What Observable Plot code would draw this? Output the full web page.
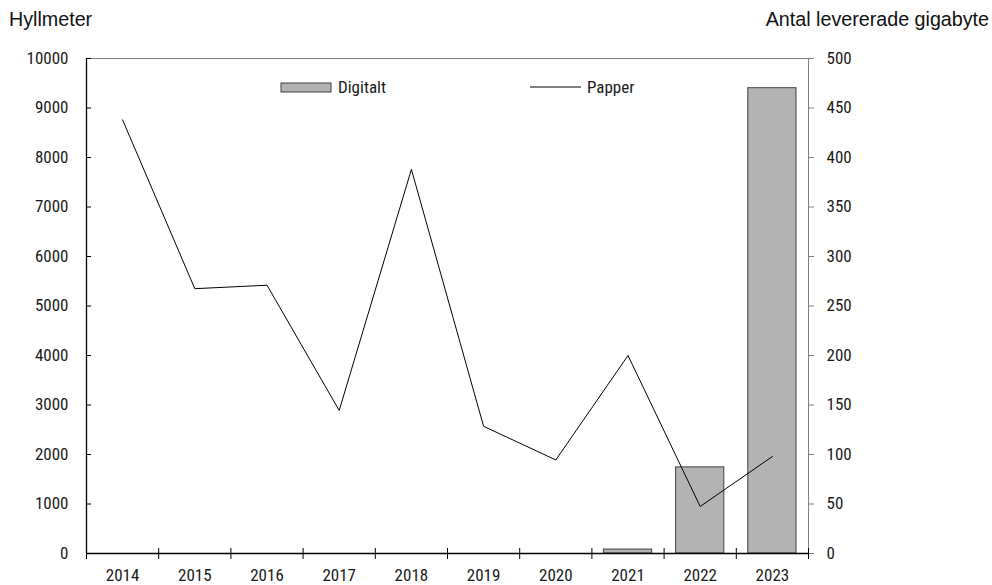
<!DOCTYPE html>
<html>
<head>
<meta charset="utf-8">
<script src="https://cdn.jsdelivr.net/npm/d3@7"></script>
<script src="https://cdn.jsdelivr.net/npm/@observablehq/plot@0.6"></script>
<style>
  html, body { margin: 0; padding: 0; background: #fff; }
  #wrap { position: relative; width: 992px; height: 585px; overflow: hidden; }
  .title { position: absolute; top: 6px; font-family: "Liberation Sans", Arial, sans-serif; font-size: 19.7px; color: #111; white-space: nowrap; line-height: 26px; }
  #overlay { position: absolute; left: 0; top: 0; pointer-events: none; }
</style>
</head>
<body>
<div id="wrap">
  <div id="chart"></div>
  <div class="title" style="left:9px;">Hyllmeter</div>
  <div class="title" style="right:3px;">Antal levererade gigabyte</div>
</div>
<script>
const years = [2014, 2015, 2016, 2017, 2018, 2019, 2020, 2021, 2022, 2023];
const papper = [8760, 5350, 5420, 2890, 7760, 2570, 1890, 4000, 950, 1960];   // Hyllmeter
const digitalt = [0, 0, 0, 0, 0, 0, 0, 4, 87, 470];                            // gigabyte
const leftTicks = [0, 1000, 2000, 3000, 4000, 5000, 6000, 7000, 8000, 9000, 10000];
const rightTicks = [0, 50, 100, 150, 200, 250, 300, 350, 400, 450, 500];
const seriesNames = ["Digitalt", "Papper"];

const ratio = leftTicks[leftTicks.length - 1] / rightTicks[rightTicks.length - 1];
const data = years.map((year, i) => ({year, papper: papper[i], gb: digitalt[i]}));
const bars = data.filter(d => d.gb > 0);
const bounds = [...years.map(y => y - 0.5), years[years.length - 1] + 0.5];

const font = '"Roboto Condensed", "Liberation Sans", sans-serif';
const fs = 17;

const chart = Plot.plot({
  width: 992,
  height: 585,
  marginTop: 58,
  marginBottom: 32,
  marginLeft: 86,
  marginRight: 184,
  style: {fontFamily: font, fontSize: fs + "px", color: "#1a1a1a", background: "#fff"},
  x: {type: "linear", domain: [bounds[0], bounds[bounds.length - 1]]},
  y: {domain: [leftTicks[0], leftTicks[leftTicks.length - 1]]},
  marks: [
    Plot.frame({stroke: "#808080"}),
    Plot.rect(bars, {
      x1: d => d.year - 0.5, x2: d => d.year + 0.5,
      y1: () => 0, y2: d => d.gb * ratio,
      insetLeft: 12, insetRight: 12,
      fill: "#b3b3b3", stroke: "#404040", strokeWidth: 1
    }),
    Plot.lineY(data, {x: "year", y: "papper", stroke: "#000", strokeWidth: 1}),
    Plot.ruleY([leftTicks[0]], {stroke: "#000", strokeWidth: 1.3}),
    Plot.ruleX([bounds[0]], {stroke: "#000", strokeWidth: 1.3}),
    Plot.axisY({anchor: "left", ticks: leftTicks, tickSize: 5, dx: 5, tickFormat: () => "", label: null, stroke: "#000"}),
    Plot.axisY({anchor: "left", ticks: leftTicks, tickSize: 0, tickPadding: 18, tickFormat: d => String(d), label: null, fontSize: fs, fill: "#1a1a1a"}),
    Plot.axisY({anchor: "right", ticks: leftTicks, tickSize: 5, tickFormat: () => "", label: null, stroke: "#808080"}),
    Plot.axisY({anchor: "right", ticks: leftTicks, tickSize: 0, tickPadding: 18, tickFormat: d => String(d / ratio), label: null, fontSize: fs, fill: "#1a1a1a"}),
    Plot.axisX({anchor: "bottom", ticks: bounds, tickSize: 11, dy: -5, tickFormat: () => "", label: null, stroke: "#000"}),
    Plot.axisX({anchor: "bottom", ticks: years, tickSize: 0, tickPadding: 15, tickFormat: d => String(d), label: null, fontSize: fs, fill: "#1a1a1a"})
  ]
});
document.getElementById("chart").appendChild(chart);

const ov = d3.select("#wrap").append("svg").attr("id", "overlay").attr("width", 992).attr("height", 585);
const lg = ov.append("g").attr("font-family", font).attr("font-size", fs).attr("fill", "#1a1a1a");
lg.append("rect").attr("x", 281).attr("y", 83).attr("width", 50).attr("height", 9)
  .attr("fill", "#b3b3b3").attr("stroke", "#404040").attr("stroke-width", 1);
lg.append("text").attr("x", 338).attr("y", 87).attr("dy", "0.35em").text(seriesNames[0]);
lg.append("line").attr("x1", 530).attr("x2", 581).attr("y1", 87).attr("y2", 87).attr("stroke", "#000").attr("stroke-width", 1);
lg.append("text").attr("x", 587).attr("y", 87).attr("dy", "0.35em").text(seriesNames[1]);
</script>
</body>
</html>
